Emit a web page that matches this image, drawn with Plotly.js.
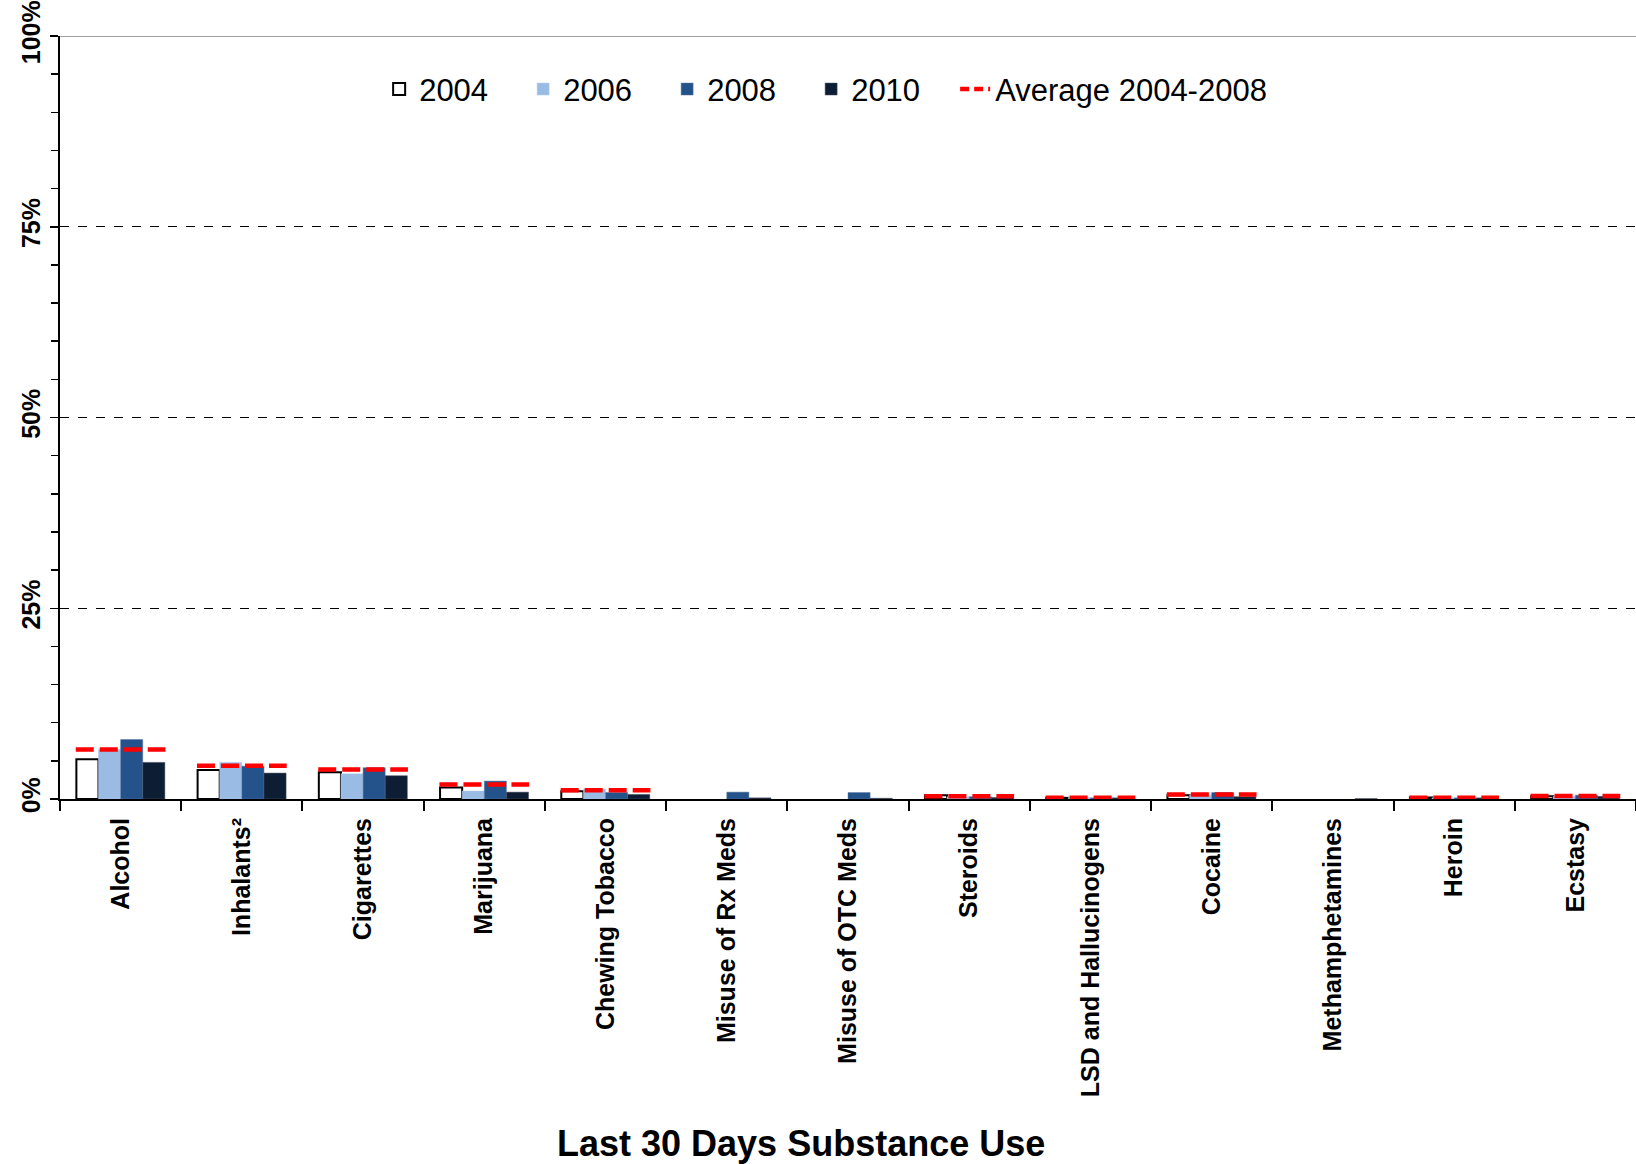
<!DOCTYPE html>
<html>
<head>
<meta charset="utf-8">
<script src="https://cdn.plot.ly/plotly-3.0.1.min.js"></script>
<style>html,body{margin:0;padding:0;background:#fff;}#chart{width:1636px;height:1164px;}</style>
</head>
<body>
<div id="chart"></div>
<script>
const categories = ["Alcohol","Inhalants²","Cigarettes","Marijuana","Chewing Tobacco","Misuse of Rx Meds","Misuse of OTC Meds","Steroids","LSD and Hallucinogens","Cocaine","Methamphetamines","Heroin","Ecstasy"];
const y2004 = [5.2, 3.8, 3.5, 1.5, 1.0, null, null, 0.5, 0.15, 0.5, null, 0.2, 0.35];
const y2006 = [6.5, 4.8, 3.3, 1.05, 1.3, null, null, 0.3, 0.2, 0.5, null, 0.15, 0.35];
const y2008 = [7.8, 4.3, 4.1, 2.35, 0.85, 0.9, 0.85, 0.3, 0.15, 0.85, null, 0.15, 0.5];
const y2010 = [4.8, 3.4, 3.05, 0.9, 0.6, 0.15, 0.1, 0.2, 0.15, 0.3, 0.05, 0.15, 0.35];
const avg0408 = [6.5, 4.35, 3.85, 1.9, 1.15, null, null, 0.35, 0.15, 0.6, null, 0.15, 0.4];
const yTickVals = [0, 25, 50, 75, 100];
const yTickText = ["0%", "25%", "50%", "75%", "100%"];
const xTitle = "Last 30 Days Substance Use";

const FONT = "Liberation Sans, Arial, sans-serif";

// average segments across each category group (index based, on an overlaid numeric axis)
const avgX = [], avgY = [];
avg0408.forEach((v, i) => {
  if (v === null) return;
  avgX.push(i - 0.37, i + 0.37, null);
  avgY.push(v, v, null);
});

const traces = [
  {type:'bar', name:'2004', x:categories, y:y2004, marker:{color:'#ffffff', line:{color:'#000000', width:2}}},
  {type:'bar', name:'2006', x:categories, y:y2006, marker:{color:'#99bbe4', line:{color:'#b8cdea', width:0.5}}},
  {type:'bar', name:'2008', x:categories, y:y2008, marker:{color:'#24528a', line:{color:'#5a7aa5', width:0.5}}},
  {type:'bar', name:'2010', x:categories, y:y2010, marker:{color:'#0d1d33', line:{color:'#4a5566', width:0.5}}},
  {type:'scatter', mode:'lines', name:'Average 2004-2008', x:avgX, y:avgY, xaxis:'x2', yaxis:'y',
   showlegend:false, legendgroup:'avg',
   line:{color:'#ff0000', width:4.5, dash:'18px,6px'}, connectgaps:false},
  // legend entry for the average line (short dashes as in the original key)
  {type:'scatter', mode:'lines', name:'Average 2004-2008', x:[null], y:[null], xaxis:'x2', yaxis:'y',
   legendgroup:'avg', legendwidth:300, hoverinfo:'skip',
   line:{color:'#ff0000', width:4.5, dash:'9px,5px'}}
];

const layout = {
  width:1636, height:1164,
  margin:{l:60, r:0, t:36, b:365},
  paper_bgcolor:'#ffffff', plot_bgcolor:'#ffffff',
  font:{family:FONT, color:'#000000'},
  barmode:'group', bargap:0.27, bargroupgap:0,
  showlegend:true,
  legend:{orientation:'h', x:0.2025, xanchor:'left', y:0.93, yanchor:'middle',
          font:{size:31, family:FONT}, entrywidth:99, entrywidthmode:'pixels',
          bgcolor:'rgba(0,0,0,0)', traceorder:'normal'},
  xaxis:{type:'category', categoryorder:'array', categoryarray:categories,
         showline:true, linecolor:'#000000', linewidth:2,
         ticks:'outside', tickson:'boundaries', ticklen:10, tickwidth:2, tickcolor:'#000000',
         ticklabelstandoff:7,
         tickangle:-90, tickfont:{size:25, family:FONT, weight:'bold'},
         showgrid:false, zeroline:false},
  xaxis2:{overlaying:'x', range:[-0.5, 12.5], visible:false, showgrid:false, zeroline:false},
  yaxis:{range:[0,100], tickvals:yTickVals, ticktext:yTickText,
         showline:true, linecolor:'#000000', linewidth:2,
         ticks:'outside', ticklen:8, tickwidth:1.5, tickcolor:'#000000',
         tickangle:-90, tickfont:{size:25, family:FONT, weight:'bold'},
         showgrid:true, gridcolor:'#000000', griddash:'dash', gridwidth:1,
         zeroline:false,
         minor:{dtick:5, tick0:0, ticks:'outside', ticklen:7, tickwidth:1.5, tickcolor:'#000000', showgrid:false}},
  annotations:[{text:xTitle, xref:'paper', yref:'paper', x:0.47, y:-0.451, xanchor:'center', yanchor:'middle',
                showarrow:false, font:{size:36, family:FONT, weight:'bold', color:'#000000'}}],
  shapes:[{type:'line', xref:'paper', yref:'y', x0:0, x1:1, y0:100, y1:100, layer:'above',
           line:{color:'#a0a0a0', width:2}}]
};

Plotly.newPlot('chart', traces, layout, {displayModeBar:false, staticPlot:true});
</script>
</body>
</html>
